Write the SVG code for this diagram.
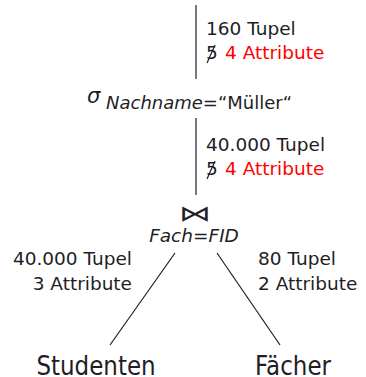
<svg xmlns="http://www.w3.org/2000/svg" width="366" height="377" viewBox="0 0 366 377">
<style>
text{font-family:"DejaVu Sans","Liberation Sans",sans-serif;fill:#1e1e24}
.s{font-size:18.5px}
.r{fill:#ff0000}
.i{font-style:italic}
.big{font-size:23px}
line{stroke:#1e1e24;stroke-width:1.2}
</style>
<rect width="366" height="377" fill="#fff"/>
<g id="connectors">
<line x1="196" y1="5" x2="196" y2="79"/>
<line x1="196" y1="118" x2="196" y2="195"/>
<line x1="175" y1="253" x2="110" y2="345"/>
<line x1="217" y1="253" x2="280" y2="345"/>
</g>
<g id="sel">
<text x="87" y="103" font-size="21" class="i">σ</text>
<text x="106" y="109" class="i" font-size="18">Nachname<tspan font-style="normal">=“Müller“</tspan></text>
</g>
<g id="join">
<text font-size="22" text-anchor="middle" transform="translate(195,221) scale(1.45,1)">⋈</text>
<text x="194" y="242" class="i" font-size="18.5" text-anchor="middle">Fach=FID</text>
</g>
<g id="stud"><text class="big" text-anchor="middle" transform="translate(96,375) scale(1,1.16)">Studenten</text></g>
<g id="faecher"><text class="big" text-anchor="middle" transform="translate(293,375) scale(1,1.16)">Fächer</text></g>
<g id="labels">
<text x="206" y="35" class="s">160 Tupel</text>
<text x="206" y="59" class="s">5</text><line x1="207" y1="63" x2="215" y2="45" stroke-width="1"/>
<text x="225" y="59" class="s r">4 Attribute</text>
<text x="206" y="151" class="s">40.000 Tupel</text>
<text x="206" y="175" class="s">5</text><line x1="207" y1="179" x2="215" y2="161" stroke-width="1"/>
<text x="225" y="175" class="s r">4 Attribute</text>
<text x="132" y="265" class="s" text-anchor="end">40.000 Tupel</text>
<text x="132" y="290" class="s" text-anchor="end">3 Attribute</text>
<text x="258" y="265" class="s">80 Tupel</text>
<text x="258" y="290" class="s">2 Attribute</text>
</g>
</svg>
